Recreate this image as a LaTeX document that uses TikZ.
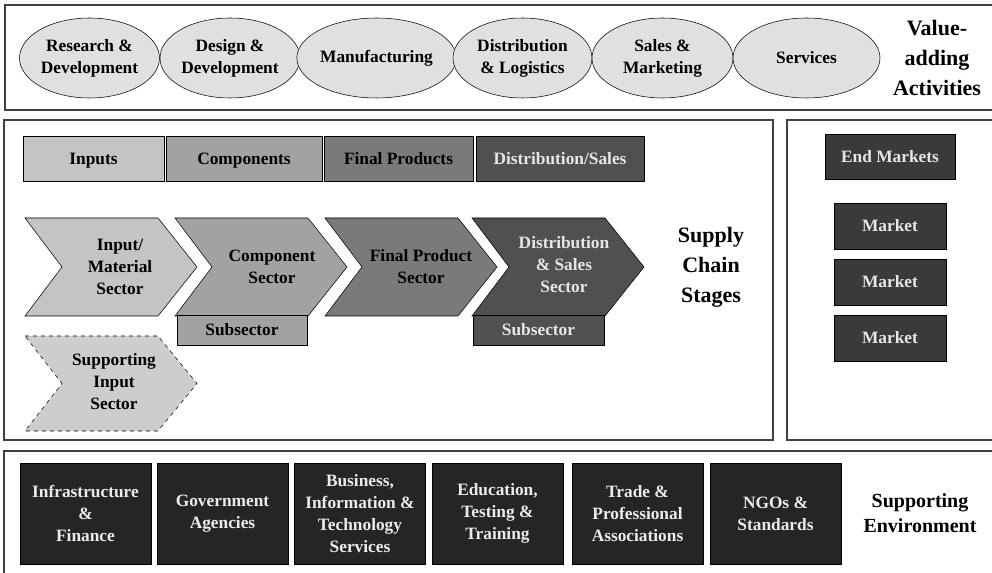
\documentclass[tikz,border=0pt]{standalone}
\usepackage{fontspec}
\setmainfont{Liberation Serif}
\usepackage{xcolor}
\usepackage{tikz}
\usetikzlibrary{shapes.geometric}

\definecolor{ellgray}{HTML}{E0E0E0}
\definecolor{stageA}{HTML}{C4C4C4}
\definecolor{stageB}{HTML}{A2A2A2}
\definecolor{stageC}{HTML}{7A7A7A}
\definecolor{stageD}{HTML}{505050}
\definecolor{marketgray}{HTML}{3A3A3A}
\definecolor{envgray}{HTML}{252525}
\definecolor{lighttext}{HTML}{E6E6E6}
\definecolor{framegray}{HTML}{404040}

\tikzset{
  frame/.style={draw=framegray,line width=1.1pt},
  activity/.style={ellipse,draw=black,fill=ellgray,inner sep=0pt,
    minimum height=60pt,align=center,font=\bodyfont},
  stagebox/.style={rectangle,draw=black,inner sep=0pt,minimum height=33.75pt,
    text height=9pt,text depth=0.5pt,font=\bodyfont},
  marketbox/.style={rectangle,draw=black,fill=marketgray,text=lighttext,
    inner sep=0pt,minimum width=84pt,minimum height=34.5pt,font=\bodyfont},
  envbox/.style={rectangle,draw=black,fill=envgray,text=white!92!black,
    inner sep=0pt,minimum width=98.25pt,minimum height=75.75pt,
    align=center,font=\bodyfont},
  biglabel/.style={align=center,font=\bfseries\fontsize{16.5}{22.5}\selectfont},
}
\newcommand{\bodyfont}{\bfseries\fontsize{13}{16.5}\selectfont}

\begin{document}
\begin{tikzpicture}[x=0.75pt,y=-0.75pt]
  \useasboundingbox (0,0) rectangle (992,573);
  \clip (0,0) rectangle (992,573);
  % frames (open on the right and at the bottom)
  \draw[frame] (5,5) rectangle (1000,110);
  \draw[frame] (4,120) rectangle (773,440);
  \draw[frame] (787,120) rectangle (1000,440);
  \draw[frame] (4,451) rectangle (1000,590);

  % value-adding activities
  \node[activity,minimum width=105pt] (research) at (89.5,58) {Research \&\\Development};
  \node[activity,minimum width=105pt] (design) at (230,58) {Design \&\\Development};
  \node[activity,minimum width=114.75pt] (manuf) at (376.5,58) {Manufacturing};
  \node[activity,minimum width=104.25pt] (distlog) at (522.5,58) {Distribution\\\& Logistics};
  \node[activity,minimum width=105.75pt] (sales) at (662.5,58) {Sales \&\\Marketing};
  \node[activity,minimum width=110.25pt] (services) at (806.5,58) {Services};
  \node[biglabel] (valuelbl) at (937,58) {Value-\\adding\\Activities};

  % supply chain stages
  \node[stagebox,fill=stageA,minimum width=105.75pt] (inputs) at (93.5,158.5) {Inputs};
  \node[stagebox,fill=stageB,minimum width=117pt] (components) at (244,158.5) {Components};
  \node[stagebox,fill=stageC,minimum width=111.75pt] (finalprod) at (398.5,158.5) {Final Products};
  \node[stagebox,fill=stageD,text=lighttext,minimum width=126pt] (distsales) at (560,158.5) {Distribution/Sales};

  \foreach \x/\col in {25/stageA,175/stageB,325/stageC,472/stageD}
  \filldraw[xshift=\x*0.75pt,fill=\col,draw=black] (0,218) -- (133,218)
    -- (172,267) -- (133,316) -- (0,316) -- (37,267) -- cycle;
  \filldraw[fill=stageA!85!white,draw=black,dashed] (25,336) -- (158,336)
    -- (197,383.5) -- (158,431) -- (25,431) -- (62,383.5) -- cycle;

  \node[align=center,font=\bodyfont] (inputsec) at (120,267) {Input/\\Material\\Sector};
  \node[align=center,font=\bodyfont] (compsec) at (272,267) {Component\\Sector};
  \node[align=center,font=\bodyfont] (finalsec) at (421,267) {Final Product\\Sector};
  \node[align=center,font=\bodyfont,text=lighttext] (distsec) at (564,265) {Distribution\\\& Sales\\Sector};
  \node[align=center,font=\bodyfont] (supportsec) at (114,382) {Supporting\\Input\\Sector};

  \node[stagebox,fill=stageB,minimum width=97.5pt,minimum height=22.5pt] (compsub) at (242,330) {Subsector};
  \node[stagebox,fill=stageD,text=lighttext,minimum width=98.25pt,minimum height=22.5pt] (distsub) at (538.5,330) {Subsector};
  \node[biglabel] (stageslbl) at (711,267) {Supply\\Chain\\Stages};

  % end markets
  \node[marketbox,minimum width=97.5pt,minimum height=33.75pt] (endmkt) at (890,156.5) {End Markets};
  \foreach \y/\name in {226/mktA,282/mktB,338/mktC}
  \node[marketbox] (\name) at (890,\y) {Market};

  % supporting environment
  \foreach \x/\name/\txt in {85.5/infra/{Infrastructure\\\&\\Finance},
      222.5/govt/{Government\\Agencies},
      360/business/{Business,\\Information \&\\Technology\\Services},
      497.5/educ/{Education,\\Testing \&\\Training},
      637.5/trade/{Trade \&\\Professional\\Associations},
      775.5/ngo/{NGOs \&\\Standards}}
  \node[envbox] (\name) at (\x,513.5) {\txt};
  \node[align=center,font=\bfseries\fontsize{15}{18.75}\selectfont] (envlbl) at (920,513) {Supporting\\Environment};
\end{tikzpicture}
\end{document}
